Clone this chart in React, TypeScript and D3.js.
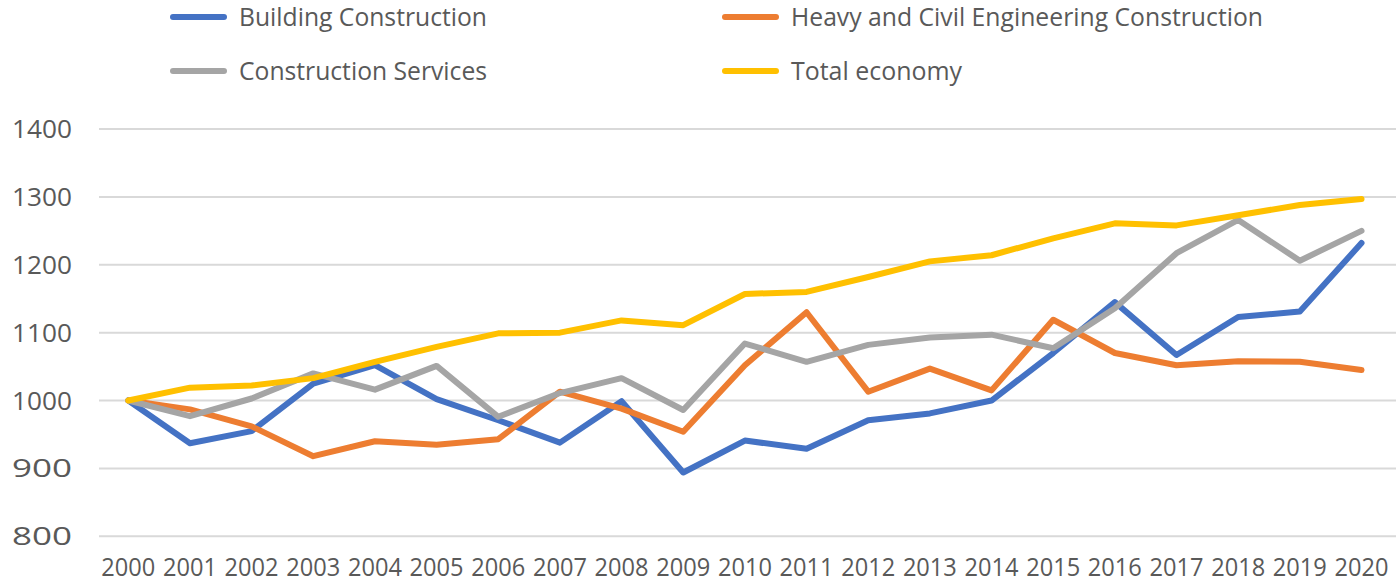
import * as d3 from "d3";
import React, { useEffect, useRef } from "react";

const years = d3.range(2000, 2021).map(String);

const buildingConstruction = [1000, 937, 955, 1025, 1052, 1002, 971, 938, 999, 894, 941, 929, 971, 981, 1000, 1070, 1145, 1067, 1123, 1131, 1232];
const heavyCivil = [1000, 987, 962, 918, 940, 935, 943, 1013, 988, 954, 1052, 1130, 1013, 1047, 1015, 1119, 1070, 1052, 1058, 1057, 1045];
const constructionServices = [1000, 977, 1003, 1040, 1016, 1051, 976, 1011, 1033, 986, 1084, 1057, 1082, 1093, 1097, 1077, 1136, 1217, 1266, 1206, 1250];
const totalEconomy = [1000, 1019, 1022, 1033, 1057, 1079, 1099, 1100, 1118, 1111, 1157, 1160, 1182, 1205, 1214, 1239, 1261, 1258, 1273, 1288, 1297];

const seriesNames = ["Building Construction", "Heavy and Civil Engineering Construction", "Construction Services", "Total economy"];
const seriesColors = ["#4472C4", "#ED7D31", "#A5A5A5", "#FFC000"];
const yTicks = [800, 900, 1000, 1100, 1200, 1300, 1400];

export default function App() {
  const ref = useRef<SVGSVGElement>(null);

  useEffect(() => {
    const width = 1396;
    const height = 586;
    const svg = d3.select(ref.current);
    svg.selectAll("*").remove();

    const font = "'Open Sans', sans-serif";
    const textColor = "#595959";

    const x = d3.scalePoint<string>().domain(years).range([128.3, 1361.5]);
    const y = d3.scaleLinear().domain([800, 1400]).range([536.3, 129]);

    // líneas de la cuadrícula
    svg
      .append("g")
      .selectAll("line")
      .data(yTicks)
      .join("line")
      .attr("x1", 99)
      .attr("x2", width)
      .attr("y1", (d) => y(d))
      .attr("y2", (d) => y(d))
      .attr("stroke", "#D9D9D9")
      .attr("stroke-width", 2);

    // etiquetas del eje y
    svg
      .append("g")
      .attr("font-family", font)
      .attr("font-size", 25)
      .attr("fill", textColor)
      .attr("text-anchor", "end")
      .selectAll("text")
      .data(yTicks)
      .join("text")
      .attr("x", 72)
      .attr("y", (d) => y(d))
      .attr("dy", "0.36em")
      .attr("textLength", 60)
      .attr("lengthAdjust", "spacingAndGlyphs")
      .text((d) => d);

    // etiquetas del eje x
    svg
      .append("g")
      .attr("font-family", font)
      .attr("font-size", 25)
      .attr("fill", textColor)
      .attr("text-anchor", "middle")
      .selectAll("text")
      .data(years)
      .join("text")
      .attr("x", (d) => x(d)!)
      .attr("y", 567)
      .attr("dy", "0.36em")
      .attr("textLength", 54)
      .attr("lengthAdjust", "spacingAndGlyphs")
      .text((d) => d);

    const allSeries = [buildingConstruction, heavyCivil, constructionServices, totalEconomy];
    const line = d3
      .line<number>()
      .x((_, i) => x(years[i])!)
      .y((d) => y(d));

    svg
      .append("g")
      .selectAll("path")
      .data(allSeries)
      .join("path")
      .attr("d", (d) => line(d))
      .attr("fill", "none")
      .attr("stroke", (_, i) => seriesColors[i])
      .attr("stroke-width", 6)
      .attr("stroke-linejoin", "round")
      .attr("stroke-linecap", "round");

    // leyenda
    const legendPos = [
      { x: 170, y: 17, w: 248 },
      { x: 722, y: 17, w: 472 },
      { x: 170, y: 71, w: 248 },
      { x: 722, y: 71, w: 171 },
    ];
    const legend = svg
      .append("g")
      .selectAll("g")
      .data(seriesNames)
      .join("g")
      .attr("transform", (_, i) => `translate(${legendPos[i].x},${legendPos[i].y})`);
    legend
      .append("line")
      .attr("x1", 3)
      .attr("x2", 54)
      .attr("stroke", (_, i) => seriesColors[i])
      .attr("stroke-width", 6)
      .attr("stroke-linecap", "round");
    legend
      .append("text")
      .attr("x", 69)
      .attr("dy", "0.36em")
      .attr("font-family", font)
      .attr("font-size", 25)
      .attr("fill", textColor)
      .attr("textLength", (_, i) => legendPos[i].w)
      .attr("lengthAdjust", "spacingAndGlyphs")
      .text((d) => d);
  }, []);

  return (
    <svg
      ref={ref}
      width={1396}
      height={586}
      style={{ position: "absolute", left: 0, top: 0, background: "white" }}
    ></svg>
  );
}
